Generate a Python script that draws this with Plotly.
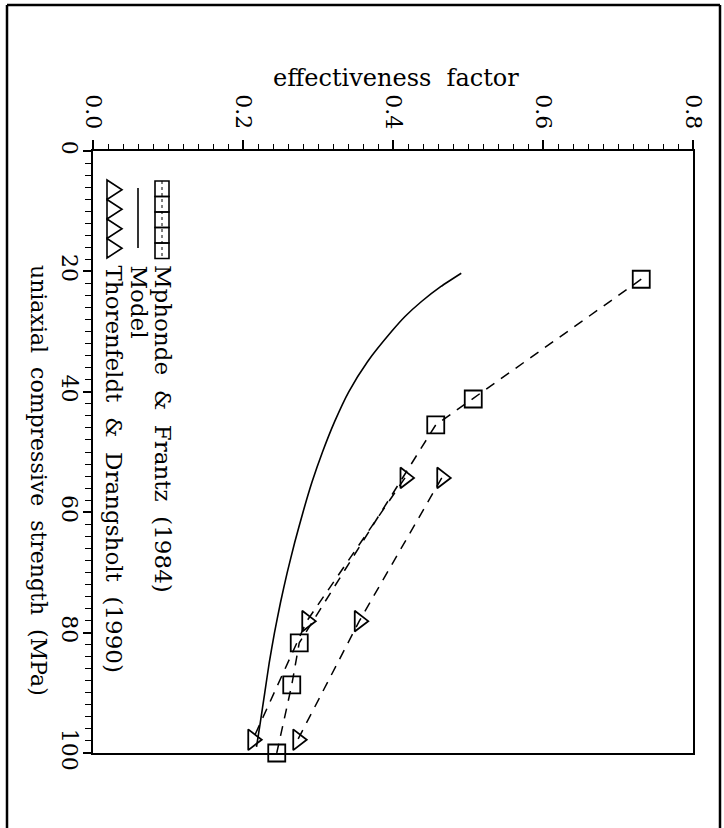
import plotly.graph_objects as go

# ---------------- data ----------------
mf_strength = [21.3, 41.2, 45.5, 81.7, 88.7, 100.0]
mf_eff = [0.731, 0.507, 0.457, 0.275, 0.265, 0.245]

td_low_strength = [54.3, 78.1, 97.8]
td_low_eff = [0.416, 0.285, 0.213]

td_high_strength = [54.3, 78.1, 97.8]
td_high_eff = [0.465, 0.355, 0.273]

model_strength = [20.3, 22.5, 25, 27.5, 30, 35, 40, 45, 50, 55, 60, 65, 70, 75, 80, 85, 90, 95, 99]
model_eff = [0.491, 0.464, 0.438, 0.416, 0.398, 0.366, 0.341, 0.322, 0.306, 0.292, 0.280, 0.269,
             0.259, 0.250, 0.242, 0.235, 0.229, 0.223, 0.218]

eff_ticks = [0.0, 0.2, 0.4, 0.6, 0.8]
eff_labels = ["0.0", "0.2", "0.4", "0.6", "0.8"]
str_ticks = [0, 20, 40, 60, 80, 100]
str_labels = ["0", "20", "40", "60", "80", "100"]

legend_names = ["Mphonde & Frantz (1984)", "Model", "Thorenfeldt & Drangsholt (1990)"]
x_title = "effectiveness factor"
y_title = "uniaxial compressive strength (MPa)"

# ---------------- layout geometry (pixels) ----------------
W, H = 724, 828
L, T, R, B = 93, 151, 693, 753
FONT = "DejaVu Serif"
FS = 22


def px_x(px):
    return (px - L) / (R - L)


def px_y(py):
    return (B - py) / (B - T)


def nb(s):
    return s.replace(" ", "\u00a0\u00a0")


fig = go.Figure()

dash = "10px,8px"
fig.add_trace(go.Scatter(x=model_eff, y=model_strength, mode="lines",
                         line=dict(color="black", width=1.6, shape="spline", smoothing=0.6),
                         cliponaxis=False, showlegend=False))
fig.add_trace(go.Scatter(x=mf_eff, y=mf_strength, mode="lines+markers",
                         line=dict(color="black", width=1.5, dash=dash),
                         marker=dict(symbol="square-open", size=17, color="black", line=dict(width=1.8)),
                         cliponaxis=False, showlegend=False))
fig.add_trace(go.Scatter(x=td_low_eff, y=td_low_strength, mode="lines+markers",
                         line=dict(color="black", width=1.5, dash=dash),
                         marker=dict(symbol="triangle-right-open", size=18, color="black", line=dict(width=1.8)),
                         cliponaxis=False, showlegend=False))
fig.add_trace(go.Scatter(x=td_high_eff, y=td_high_strength, mode="lines+markers",
                         line=dict(color="black", width=1.5, dash=dash),
                         marker=dict(symbol="triangle-right-open", size=18, color="black", line=dict(width=1.8)),
                         cliponaxis=False, showlegend=False))

shapes = []
# outer frame (left, top, right)
for (x0, y0, x1, y1) in [(7, 5, 7, 828), (7, 5, 720, 5), (720, 5, 720, 828)]:
    shapes.append(dict(type="line", xref="paper", yref="paper",
                       x0=px_x(x0), y0=px_y(y0), x1=px_x(x1), y1=px_y(y1),
                       line=dict(color="black", width=2.5)))

# legend sample: squares
sq = 15.5
for i in range(5):
    cy = 181 + sq / 2 + i * sq
    shapes.append(dict(type="rect", xref="paper", yref="paper",
                       x0=px_x(155), x1=px_x(169), y0=px_y(cy - sq / 2), y1=px_y(cy + sq / 2),
                       line=dict(color="black", width=1.6)))
shapes.append(dict(type="line", xref="paper", yref="paper",
                   x0=px_x(162), x1=px_x(162), y0=px_y(181), y1=px_y(258),
                   line=dict(color="black", width=1, dash="3px,3px")))
# legend sample: model line
shapes.append(dict(type="line", xref="paper", yref="paper",
                   x0=px_x(138), x1=px_x(138), y0=px_y(188), y1=px_y(248),
                   line=dict(color="black", width=1.6)))
# legend sample: triangles
th = 19.5
for i in range(4):
    y0 = 180 + i * th
    p = "M {:.5f},{:.5f} L {:.5f},{:.5f} L {:.5f},{:.5f} Z".format(
        px_x(107), px_y(y0), px_x(122), px_y(y0 + th / 2), px_x(107), px_y(y0 + th))
    shapes.append(dict(type="path", xref="paper", yref="paper", path=p,
                       line=dict(color="black", width=1.6)))

annotations = [
    dict(text=x_title.replace(" ", "\u00a0\u00a0"), xref="paper", yref="paper",
         x=px_x(396), y=px_y(78), xanchor="center", yanchor="middle", showarrow=False,
         font=dict(family=FONT, size=FS + 2, color="black")),
    dict(text=nb(y_title), xref="paper", yref="paper", textangle=90,
         x=px_x(39), y=px_y(480), xanchor="center", yanchor="middle", showarrow=False,
         font=dict(family=FONT, size=FS, color="black")),
]
leg_x = [163, 139, 114]
for name, lx in zip(legend_names, leg_x):
    annotations.append(dict(text=nb(name), xref="paper", yref="paper", textangle=90,
                            x=px_x(lx), y=px_y(263), xanchor="center", yanchor="top",
                            showarrow=False, font=dict(family=FONT, size=FS + 1, color="black")))

fig.update_layout(
    width=W, height=H,
    margin=dict(l=L, r=W - R, t=T, b=H - B, pad=0),
    paper_bgcolor="white", plot_bgcolor="white",
    font=dict(family=FONT, size=FS, color="black"),
    shapes=shapes, annotations=annotations, showlegend=False,
    xaxis=dict(range=[0, 0.8], side="top", tickvals=eff_ticks, ticktext=eff_labels,
               tickangle=90, ticks="outside", ticklen=9, tickwidth=1.6, tickcolor="black",
               showline=True, linecolor="black", linewidth=2, mirror=True,
               showgrid=False, zeroline=False, ticklabelstandoff=3,
               minor=dict(dtick=0.02, ticks="outside", ticklen=5, tickwidth=1.3, tickcolor="black", showgrid=False),
               tickfont=dict(family=FONT, size=FS, color="black")),
    yaxis=dict(range=[100, 0], tickvals=str_ticks, ticktext=str_labels,
               tickangle=90, ticks="outside", ticklen=8, tickwidth=1.6, tickcolor="black",
               showline=True, linecolor="black", linewidth=2, mirror=True,
               showgrid=False, zeroline=False, ticklabelstandoff=-5,
               minor=dict(dtick=2, ticks="outside", ticklen=6, tickwidth=1.3, tickcolor="black", showgrid=False),
               tickfont=dict(family=FONT, size=FS, color="black")),
)

fig.write_html("out.html")
